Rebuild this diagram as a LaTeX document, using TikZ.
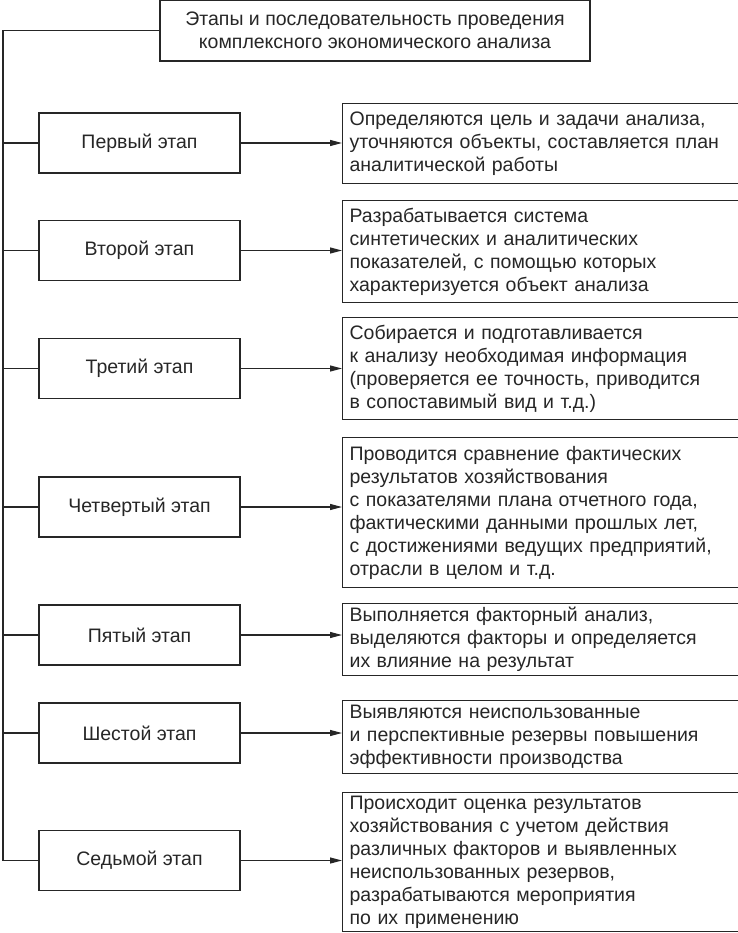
\documentclass[tikz,border=0pt]{standalone}
\usepackage{fontspec}
\setmainfont{Liberation Sans}
\usetikzlibrary{arrows.meta}

\tikzset{
  stagebox/.style={draw, line width=1.2pt, minimum width=201pt, minimum height=60pt, inner sep=0pt},
  textbox/.style={draw, line width=1.2pt, anchor=north west, minimum width=394pt, text width=382pt, inner xsep=7pt, inner ysep=0pt, align=left},
  link/.style={line width=1.2pt},
  arr/.style={line width=1.2pt, -{Triangle[length=12pt,width=6pt]}}
}

\begin{document}
\begin{tikzpicture}[x=1pt, y=-1pt, font=\fontsize{19.5}{23}\selectfont, color=black!85]
\useasboundingbox (0,0) rectangle (737,933);

\node[draw, line width=1.2pt, minimum width=430pt, minimum height=61pt, align=center, inner sep=0pt] (title) at (375,30.5)
  {Этапы и последовательность проведения\\комплексного экономического анализа};

\foreach \n/\y/\name in {1/143/Первый этап, 2/250.5/Второй этап, 3/368.5/Третий этап, 4/507/Четвертый этап, 5/635/Пятый этап, 6/733/Шестой этап, 7/860.5/Седьмой этап}
  \node[stagebox] (s\n) at (139.5,\y) {\name};

\node[textbox, minimum height=80pt] (t1) at (342,103)
  {Определяются цель и задачи анализа,\\уточняются объекты, составляется план\\аналитической работы};
\node[textbox, minimum height=102pt] (t2) at (342,200)
  {Разрабатывается система\\синтетических и аналитических\\показателей, с помощью которых\\характеризуется объект анализа};
\node[textbox, minimum height=102pt] (t3) at (342,317)
  {Собирается и подготавливается\\к анализу необходимая информация\\(проверяется ее точность, приводится\\в сопоставимый вид и т.д.)};
\node[textbox, minimum height=150pt] (t4) at (342,437)
  {Проводится сравнение фактических\\результатов хозяйствования\\с показателями плана отчетного года,\\фактическими данными прошлых лет,\\с достижениями ведущих предприятий,\\отрасли в целом и т.д.};
\node[textbox, minimum height=72pt] (t5) at (342,603)
  {Выполняется факторный анализ,\\выделяются факторы и определяется\\их влияние на результат};
\node[textbox, minimum height=73pt] (t6) at (342,700)
  {Выявляются неиспользованные\\и перспективные резервы повышения\\эффективности производства};
\node[textbox, minimum height=139pt] (t7) at (342,792)
  {Происходит оценка результатов\\хозяйствования с учетом действия\\различных факторов и выявленных\\неиспользованных резервов,\\разрабатываются мероприятия\\по их применению};

\coordinate (corner) at (3,860.5);
\draw[link] (title.west) -| (corner) -- (s7.west);
\foreach \n in {1,...,6}
  \draw[link] (s\n.west -| corner) -- (s\n.west);
\foreach \n in {1,...,7}
  \draw[arr] (s\n.east) -- (s\n.east -| t\n.west);

\end{tikzpicture}
\end{document}
